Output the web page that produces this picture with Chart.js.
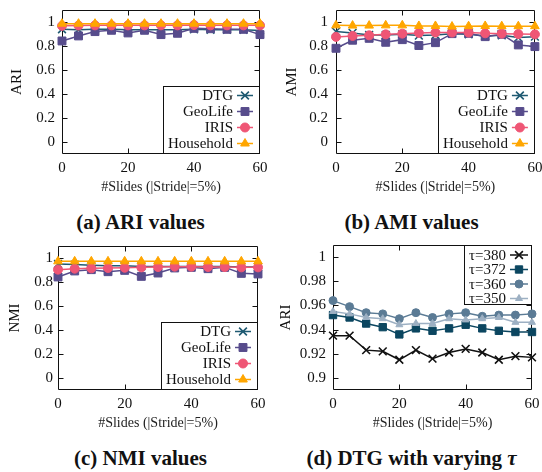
<!DOCTYPE html>
<html>
<head>
<meta charset="utf-8">
<script src="https://cdn.jsdelivr.net/npm/chart.js@4.4.0/dist/chart.umd.min.js"></script>
<style>
  body { margin: 0; background: #fff; width: 542px; height: 472px; position: relative; overflow: hidden; font-family: "Liberation Serif", serif; }
  .pane { position: absolute; width: 271px; height: 200px; }
  .cap { position: absolute; width: 271px; text-align: center; font-weight: bold; font-size: 21px; line-height: 24px; color: #111; }
</style>
</head>
<body>
<div class="pane" style="left:0;top:0"><canvas id="ari"></canvas></div>
<div class="pane" style="left:271px;top:0"><canvas id="ami"></canvas></div>
<div class="pane" style="left:0;top:236px"><canvas id="nmi"></canvas></div>
<div class="pane" style="left:271px;top:236px"><canvas id="tau"></canvas></div>
<div class="cap" style="left:5px;top:210px">(a) ARI values</div>
<div class="cap" style="left:276px;top:210px">(b) AMI values</div>
<div class="cap" style="left:5px;top:446px">(c) NMI values</div>
<div class="cap" style="left:276px;top:446px">(d) DTG with varying <i>τ</i></div>
<script>
// x positions: number of slides
const slides = [0, 5, 10, 15, 20, 25, 30, 35, 40, 45, 50, 55, 60];
const xTicks = [0, 20, 40, 60];
const yTicksMain = [0, 0.2, 0.4, 0.6, 0.8, 1];
const yTicksTau = [0.9, 0.92, 0.94, 0.96, 0.98, 1];

// (a) ARI
const ariDTG = [0.94, 0.935, 0.94, 0.94, 0.935, 0.935, 0.935, 0.935, 0.94, 0.935, 0.935, 0.935, 0.93];
const ariGeoLife = [0.842, 0.884, 0.92, 0.931, 0.909, 0.931, 0.895, 0.906, 0.947, 0.944, 0.939, 0.939, 0.895];
const ariIRIS = [0.968, 0.97, 0.972, 0.972, 0.972, 0.972, 0.972, 0.972, 0.975, 0.972, 0.972, 0.972, 0.972];
const ariHousehold = [0.986, 0.986, 0.986, 0.986, 0.986, 0.986, 0.986, 0.986, 0.986, 0.986, 0.986, 0.986, 0.986];

// (b) AMI
const amiDTG = [0.92, 0.909, 0.892, 0.892, 0.898, 0.887, 0.892, 0.903, 0.898, 0.884, 0.889, 0.87, 0.878];
const amiGeoLife = [0.781, 0.848, 0.864, 0.831, 0.853, 0.804, 0.828, 0.903, 0.906, 0.878, 0.898, 0.809, 0.795];
const amiIRIS = [0.876, 0.884, 0.889, 0.897, 0.903, 0.909, 0.912, 0.912, 0.912, 0.906, 0.903, 0.9, 0.897];
const amiHousehold = [0.972, 0.97, 0.97, 0.972, 0.972, 0.967, 0.967, 0.962, 0.965, 0.967, 0.965, 0.965, 0.965];

// (c) NMI
const nmiDTG = [0.95, 0.945, 0.94, 0.935, 0.935, 0.93, 0.93, 0.93, 0.93, 0.93, 0.93, 0.925, 0.925];
const nmiGeoLife = [0.842, 0.892, 0.903, 0.886, 0.897, 0.847, 0.875, 0.917, 0.922, 0.911, 0.922, 0.872, 0.867];
const nmiIRIS = [0.903, 0.911, 0.914, 0.917, 0.919, 0.922, 0.925, 0.928, 0.928, 0.925, 0.925, 0.922, 0.922];
const nmiHousehold = [0.972, 0.972, 0.972, 0.972, 0.972, 0.972, 0.972, 0.972, 0.972, 0.972, 0.972, 0.972, 0.972];

// (d) DTG, ARI with varying tau
const tau380 = [0.935, 0.935, 0.923, 0.922, 0.915, 0.923, 0.916, 0.921, 0.924, 0.921, 0.915, 0.918, 0.917];
const tau372 = [0.952, 0.950, 0.945, 0.942, 0.936, 0.941, 0.939, 0.941, 0.944, 0.941, 0.939, 0.938, 0.938];
const tau360 = [0.964, 0.959, 0.954, 0.953, 0.949, 0.954, 0.950, 0.953, 0.954, 0.951, 0.952, 0.952, 0.953];
const tau350 = [0.955, 0.953, 0.950, 0.949, 0.944, 0.945, 0.945, 0.949, 0.948, 0.949, 0.950, 0.946, 0.946];

Chart.defaults.font.family = '"Liberation Serif", serif';
Chart.defaults.color = '#000';
Chart.defaults.animation = false;

const pts = ys => slides.map((x, i) => ({ x: x, y: ys[i] }));

const series = (label, ys, color, style, radius, order) => ({
  label: label,
  data: pts(ys),
  borderColor: color,
  backgroundColor: color,
  pointBackgroundColor: color,
  pointBorderColor: color,
  pointStyle: style,
  pointRadius: radius,
  pointBorderWidth: style == 'crossRot' ? 1.6 : 1,
  borderWidth: 1.5,
  tension: 0,
  clip: false,
  order: order
});

// box with inward ticks on all four sides, gnuplot style
const frame = {
  id: 'frame',
  beforeDatasetsDraw(chart) {
    const { ctx, chartArea: a, scales } = chart;
    const l = Math.round(a.left) + 0.5, r = Math.round(a.right) - 0.5;
    const t = Math.round(a.top) + 0.5, b = Math.round(a.bottom) - 0.5;
    ctx.save();
    ctx.strokeStyle = '#111';
    ctx.lineWidth = 1;
    ctx.beginPath();
    ctx.rect(l, t, r - l, b - t);
    scales.x.ticks.forEach(tk => {
      const px = Math.round(scales.x.getPixelForValue(tk.value)) + 0.5;
      if (px < l + 2 || px > r - 2) return;
      ctx.moveTo(px, b); ctx.lineTo(px, b - 5);
      ctx.moveTo(px, t); ctx.lineTo(px, t + 5);
    });
    scales.y.ticks.forEach(tk => {
      const py = Math.round(scales.y.getPixelForValue(tk.value)) + 0.5;
      if (py < t + 2 || py > b - 2) return;
      ctx.moveTo(l, py); ctx.lineTo(l + 5, py);
      ctx.moveTo(r, py); ctx.lineTo(r - 5, py);
    });
    ctx.stroke();
    ctx.restore();
  }
};

const boxLegend = {
  id: 'boxLegend',
  afterDatasetsDraw(chart, args, o) {
    const { ctx, chartArea: a } = chart;
    const x0 = Math.round(a.right - o.width);
    const y0 = Math.round(o.atTop ? a.top : a.bottom - o.height);
    ctx.save();
    ctx.fillStyle = '#fff';
    ctx.fillRect(x0, y0, o.width, o.height);
    ctx.strokeStyle = '#111';
    ctx.lineWidth = 1;
    ctx.strokeRect(x0 + 0.5, y0 + 0.5, o.width - 1, o.height - 1);
    ctx.font = '15px "Liberation Serif"';
    ctx.textAlign = 'right';
    ctx.textBaseline = 'middle';
    const tx = a.right - o.textRight;
    chart.data.datasets.forEach((ds, i) => {
      const cy = y0 + o.first + i * o.gap;
      ctx.fillStyle = '#111';
      ctx.fillText(ds.label, tx, cy + 1);
      ctx.strokeStyle = ds.borderColor;
      ctx.lineWidth = ds.borderWidth;
      ctx.beginPath();
      ctx.moveTo(tx + 4, cy);
      ctx.lineTo(tx + 4 + o.sample, cy);
      ctx.stroke();
      ctx.fillStyle = ds.pointBackgroundColor;
      ctx.lineWidth = ds.pointBorderWidth;
      Chart.helpers.drawPoint(ctx, { pointStyle: ds.pointStyle, radius: ds.pointRadius, rotation: 0, borderWidth: ds.pointBorderWidth }, tx + 4 + o.sample / 2, cy);
    });
    ctx.restore();
  }
};

const fmt = v => String(+(+v).toFixed(2));

function makeChart(id, datasets, cfg) {
  return new Chart(document.getElementById(id), {
    type: 'line',
    data: { datasets: datasets },
    plugins: [frame, boxLegend],
    options: {
      responsive: false,
      maintainAspectRatio: false,
      layout: { padding: { left: 0, right: cfg.padRight, top: cfg.padTop, bottom: 0 } },
      plugins: {
        legend: { display: false },
        tooltip: { enabled: false },
        boxLegend: cfg.legend
      },
      scales: {
        x: {
          type: 'linear',
          min: 0,
          max: 60,
          afterBuildTicks: s => { s.ticks = xTicks.map(v => ({ value: v })); },
          afterFit: s => { s.height = 46; s.paddingLeft = 0; s.paddingRight = 0; },
          grid: { display: false, drawTicks: false },
          border: { display: false },
          ticks: { padding: 5, font: { size: 15 }, color: '#111', maxRotation: 0, callback: v => fmt(v) },
          title: { display: true, text: '#Slides (|Stride|=5%)', font: { size: 14 }, color: '#222', padding: { top: 0, bottom: 4 } }
        },
        y: {
          min: cfg.yMin,
          max: cfg.yMax,
          afterBuildTicks: s => { s.ticks = cfg.yTicks.map(v => ({ value: v })); },
          afterFit: s => { s.width = cfg.yWidth; s.paddingTop = 0; s.paddingBottom = 0; },
          grid: { display: false, drawTicks: false },
          border: { display: false },
          ticks: { padding: cfg.yPad, font: { size: 15 }, color: '#111', callback: v => fmt(v) },
          title: { display: true, text: cfg.yTitle, font: { size: 15 }, color: '#111', padding: { top: cfg.yTitlePad, bottom: 0 } }
        }
      }
    }
  });
}

['ari', 'ami', 'nmi', 'tau'].forEach(id => {
  const c = document.getElementById(id);
  c.width = 271; c.height = 200;
  c.style.width = '271px'; c.style.height = '200px';
});

const cDTG = '#1f5a72', cGeo = '#574c8c', cIRIS = '#ef5675', cHouse = '#ffa600';
const bottomLegend = { width: 97, height: 68, atTop: false, first: 9.5, gap: 16, textRight: 27, sample: 16 };

const mainSets = (dtg, geo, iris, house) => [
  series('DTG', dtg, cDTG, 'crossRot', 5.5, 3),
  series('GeoLife', geo, cGeo, 'rect', 5.6, 2),
  series('IRIS', iris, cIRIS, 'circle', 4.5, 1),
  series('Household', house, cHouse, 'triangle', 5, 0)
];

makeChart('ari', mainSets(ariDTG, ariGeoLife, ariIRIS, ariHousehold), {
  padRight: 11, padTop: 10, yMin: -0.1, yMax: 1.1, yTicks: yTicksMain, yWidth: 62, yPad: 7, yTitle: 'ARI', yTitlePad: 8, legend: bottomLegend
});
makeChart('ami', mainSets(amiDTG, amiGeoLife, amiIRIS, amiHousehold), {
  padRight: 6, padTop: 10, yMin: -0.1, yMax: 1.1, yTicks: yTicksMain, yWidth: 65, yPad: 8, yTitle: 'AMI', yTitlePad: 12, legend: bottomLegend
});
makeChart('nmi', mainSets(nmiDTG, nmiGeoLife, nmiIRIS, nmiHousehold), {
  padRight: 13, padTop: 10, yMin: -0.1, yMax: 1.1, yTicks: yTicksMain, yWidth: 58, yPad: 5, yTitle: 'NMI', yTitlePad: 6, legend: bottomLegend
});
makeChart('tau', [
  series('τ=380', tau380, '#111111', 'crossRot', 5.5, 3),
  series('τ=372', tau372, '#0b4660', 'rect', 5.2, 2),
  series('τ=360', tau360, '#5b7b95', 'circle', 4, 1),
  series('τ=350', tau350, '#9db0c3', 'triangle', 4, 0)
], {
  padRight: 10, padTop: 9, yMin: 0.89, yMax: 1.01, yTicks: yTicksTau, yWidth: 62, yPad: 7, yTitle: 'ARI', yTitlePad: 6,
  legend: { width: 68, height: 60, atTop: true, first: 10, gap: 14.5, textRight: 26, sample: 18 }
});
</script>
</body>
</html>
